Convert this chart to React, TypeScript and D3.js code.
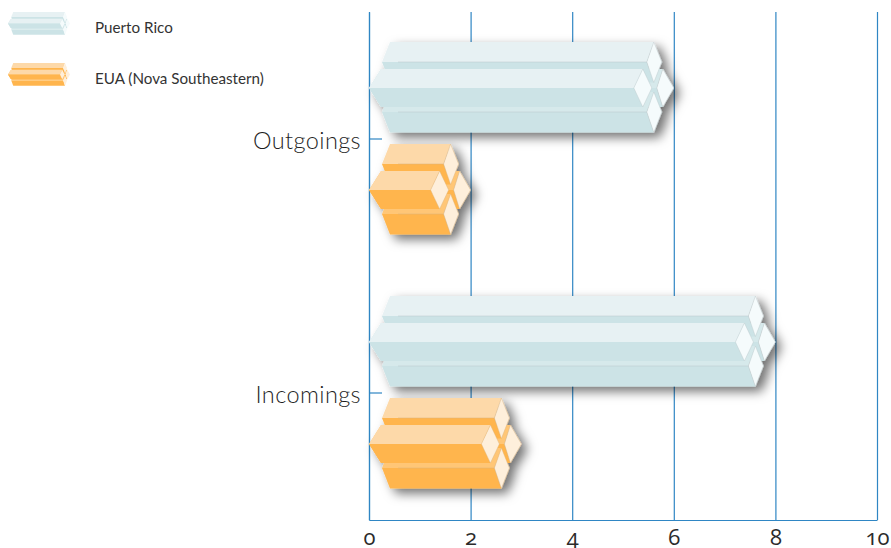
import { useRef, useEffect } from 'react';
import * as d3 from 'd3';

const categories = ['Outgoings', 'Incomings'];
const seriesNames = ['Puerto Rico', 'EUA (Nova Southeastern)'];
const puertoRicoValues = [6, 8];
const euaValues = [2, 3];
const xTicks = [0, 2, 4, 6, 8, 10];

const palettes = [
  { light: '#e7f1f3', dark: '#cce3e6', mid: '#d6e9eb', cap: '#f5fbfc', edge: '#b9c6c8' },
  { light: '#fdd9a9', dark: '#ffb54d', mid: '#ffc676', cap: '#feefdb', edge: '#d9b07a' },
];

const WIDTH = 891;
const HEIGHT = 548;

const x = d3.scaleLinear().domain([0, 10]).range([369, 877]);
const y = d3.scaleBand().domain(categories).range([12, 520]);
const inner = d3.scalePoint().domain(seriesNames).range([-51, 51]);
const outline = d3.line().curve(d3.curveLinearClosed);

// one bar = three hexagonal prisms plus a rear one, xLeft -> xTip centred on cy
function Prism({ xLeft, xTip, cy, k, colors, legend }: any) {
  const L = (dx: number) => xLeft + dx * k;
  const R = (dx: number) => xTip - dx * k;
  const Y = (dy: number) => cy + dy * k;
  const poly = (pts: number[][]) => outline(pts as [number, number][]) as string;

  // rear prism, only its X shaped end shows
  const rearTop = poly([[L(12), Y(-19)], [R(11), Y(-19)], [R(17), Y(0)], [L(0), Y(0)]]);
  const rearBottom = poly([[L(0), Y(0)], [R(17), Y(0)], [R(11), Y(19)], [L(12), Y(19)]]);
  const rearCap = poly([[R(11), Y(-19)], [R(0), Y(0)], [R(11), Y(19)], [R(17), Y(0)]]);

  const side = (dy: number) => ({
    top: poly([[L(13), Y(dy)], [L(21), Y(dy - 20)], [R(20), Y(dy - 20)], [R(27), Y(dy)]]),
    bottom: poly([[L(13), Y(dy)], [R(27), Y(dy)], [R(20), Y(dy + 20.5)], [L(21), Y(dy + 20.5)]]),
    cap: poly([[R(20), Y(dy - 20)], [R(12), Y(dy)], [R(20), Y(dy + 20.5)], [R(27), Y(dy)]]),
    seam: [[L(29), R(27)], Y(dy)] as [number[], number],
  });
  const upper = side(-26);
  const lower = side(24);

  const midTop = poly([[L(0), Y(0)], [L(12), Y(-19)], [R(31), Y(-19)], [R(40), Y(0)]]);
  const midBottom = poly([[L(0), Y(0)], [R(40), Y(0)], [R(31), Y(19)], [L(12), Y(19)]]);
  const midCap = poly([[R(31), Y(-19)], [R(22), Y(0)], [R(31), Y(19)], [R(40), Y(0)]]);

  const capStroke = legend ? 'none' : colors.edge;
  return (
    <g filter={legend ? undefined : 'url(#barShadow)'}>
      <path d={rearTop} fill={colors.mid} />
      <path d={rearBottom} fill={colors.dark} />
      <path d={rearCap} fill={colors.cap} stroke={capStroke} strokeWidth={0.4} />
      {[upper, lower].map((s, i) => (
        <g key={i}>
          <path d={s.top} fill={i === 0 ? colors.light : colors.mid} />
          <path d={s.bottom} fill={colors.dark} />
          <path d={s.cap} fill={colors.cap} stroke={capStroke} strokeWidth={0.4} />
          {!legend && (
            <line x1={s.seam[0][0]} x2={s.seam[0][1]} y1={s.seam[1]} y2={s.seam[1]}
              stroke={colors.edge} strokeWidth={0.5} />
          )}
        </g>
      ))}
      <path d={midTop} fill={colors.light} />
      <path d={midBottom} fill={colors.dark} />
      <path d={midCap} fill={colors.cap} stroke={capStroke} strokeWidth={0.4} />
    </g>
  );
}

export default function App() {
  const xAxisRef = useRef<SVGGElement>(null);
  const yAxisRef = useRef<SVGGElement>(null);

  useEffect(() => {
    const gx = d3.select(xAxisRef.current);
    gx.selectAll('*').remove();
    gx.call(d3.axisBottom(x).tickValues(xTicks).tickSize(-508).tickSizeOuter(0).tickPadding(14) as any);
    gx.select('.domain').attr('stroke', '#2f86c4').attr('stroke-width', 1.2);
    gx.selectAll('.tick line').attr('stroke', '#2f86c4').attr('stroke-width', 1.2);
    gx.selectAll('.tick text')
      .attr('font-family', '"Open Sans", sans-serif')
      .attr('font-size', 22)
      .attr('font-weight', 400)
      .attr('fill', '#2b2b2b')
      .attr('dy', 0)
      .attr('y', 25)
      .style('font-feature-settings', '"onum" 1');

    const gy = d3.select(yAxisRef.current);
    gy.selectAll('*').remove();
    gy.call(d3.axisLeft(y).tickSize(-13).tickSizeOuter(0).tickPadding(8) as any);
    gy.select('.domain').attr('stroke', '#2f86c4').attr('stroke-width', 1.2);
    gy.selectAll('.tick line').attr('stroke', '#2f86c4').attr('stroke-width', 1.2);
    gy.selectAll('.tick text')
      .attr('font-family', 'Lato, sans-serif')
      .attr('font-size', 23.5)
      .attr('font-weight', 300)
      .attr('letter-spacing', 0.4)
      .attr('fill', '#1f1f1f')
      .attr('x', -8)
      .attr('dy', '0.42em');
  }, []);

  const seriesValues = [puertoRicoValues, euaValues];

  return (
    <svg width={WIDTH} height={HEIGHT} style={{ position: 'absolute', left: 0, top: 0 }}>
      <defs>
        <filter id="barShadow" x="-30%" y="-30%" width="160%" height="160%">
          <feDropShadow dx={6} dy={5} stdDeviation={5.5} floodColor="#000" floodOpacity={0.55} />
        </filter>
      </defs>

      <g ref={xAxisRef} transform="translate(0,520)" />
      <g ref={yAxisRef} transform="translate(369,0)" />

      {categories.map((cat, c) =>
        seriesNames.map((name, s) => (
          <Prism
            key={cat + name}
            xLeft={x(0)}
            xTip={x(seriesValues[s][c])}
            cy={(y(cat) as number) + y.bandwidth() / 2 + (inner(name) as number)}
            k={1}
            colors={palettes[s]}
          />
        ))
      )}

      {seriesNames.map((name, s) => (
        <g key={name}>
          <Prism xLeft={8} xTip={70} cy={23.5 + s * 51} k={0.25} colors={palettes[s]} legend />
          <text x={95} y={33 + s * 51} fontFamily="Lato, sans-serif" fontSize={15.2} fill="#333">
            {name}
          </text>
        </g>
      ))}
    </svg>
  );
}
